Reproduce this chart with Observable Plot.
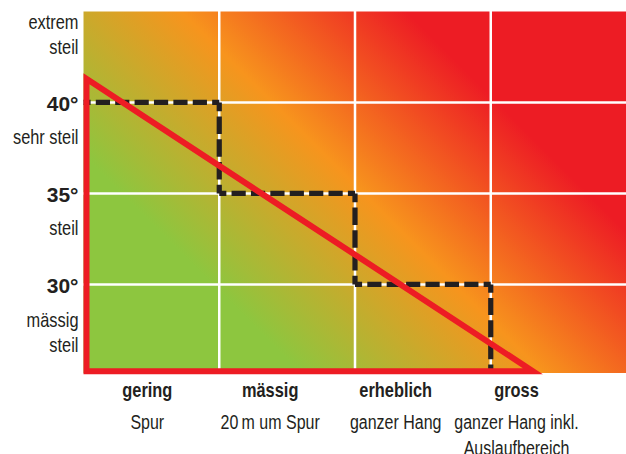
<!DOCTYPE html>
<html>
<head>
<meta charset="utf-8">
<script src="https://cdn.jsdelivr.net/npm/d3@7"></script>
<script src="https://cdn.jsdelivr.net/npm/@observablehq/plot@0.6"></script>
<style>
  html, body { margin: 0; padding: 0; background: #fff; }
  #chart svg { font-family: "Liberation Sans", Arial, sans-serif; display: block; }
</style>
</head>
<body>
<div id="chart"></div>
<script>
// ---------- data ----------
const dangerLevels = ["gering", "mässig", "erheblich", "gross"];
const dangerScope = ["Spur", "20\u2009m um Spur", "ganzer Hang", "ganzer Hang inkl.\nAuslaufbereich"];
const slopeTicks = [40, 35, 30];                       // degrees
const slopeClasses = ["extrem\nsteil", "sehr steil", "steil", "mässig\nsteil"];
const slopeClassDeg = [42.64, 37.73, 32.69, 26.27];     // baseline of last line, degrees
const maxSlopeByLevel = [40, 35, 30];                   // step line: max slope per danger level
const riskTriangle = [[0.022, 41.3], [0.022, 25.23], [3.31, 25.23]]; // red triangle (level, degree)
const yMin = 25.13, yMax = 45;

// ---------- layout ----------
const W = 626, H = 454, mL = 83, mR = 0, mT = 11, mB = 81.5;
const pxX = (W - mL - mR) / 4;
const pxY = (H - mT - mB) / (yMax - yMin);
const labelX = [0.47, 1.375, 2.3, 3.19];

// step line built from the data
const stepPts = [];
maxSlopeByLevel.forEach((deg, i) => {
  stepPts.push([i, deg], [i + 1, deg]);
});
stepPts.push([maxSlopeByLevel.length, yMin]);
const segs = [];
for (let i = 0; i < stepPts.length - 1; i++) segs.push([stepPts[i], stepPts[i + 1]]);

const gap = 5.2;
const dashMarks = segs.map(([a, b]) => {
  const len = Math.abs(b[0] - a[0]) * pxX + Math.abs(b[1] - a[1]) * pxY;
  const target = a[0] === b[0] ? 22.5 : 19.5;
  const n = Math.max(1, Math.round(len / target));
  const p = len / n;
  const d = p - gap;
  return Plot.line([a, b], {
    x: v => v[0], y: v => v[1],
    stroke: "#231f20", strokeWidth: 5.2,
    strokeDasharray: `${d},${gap}`,
    strokeDashoffset: d / 2,
    strokeLinecap: "butt"
  });
});

const chart = Plot.plot({
  width: W, height: H,
  marginLeft: mL, marginRight: mR, marginTop: mT, marginBottom: mB,
  x: {domain: [0, 4], axis: null},
  y: {domain: [yMin, yMax], axis: null},
  marks: [
    Plot.frame({fill: "url(#bg)", stroke: "none"}),
    Plot.ruleX([1, 2, 3], {stroke: "white", strokeWidth: 2.5}),
    Plot.ruleY(slopeTicks, {stroke: "white", strokeWidth: 2.5}),
    ...dashMarks,
    Plot.line(riskTriangle, {
      x: d => d[0], y: d => d[1], curve: "linear-closed",
      stroke: "#ed1c24", strokeWidth: 6, strokeLinejoin: "miter", strokeMiterlimit: 10
    }),
    Plot.text(slopeTicks, {
      x: 0, y: d => d, text: d => d + "°", textAnchor: "end", dx: -5, dy: 1.5,
      fontWeight: "bold", fontSize: 21, fill: "#231f20", className: "deg"
    }),
    Plot.text(slopeClasses, {
      x: 0, y: (d, i) => slopeClassDeg[i], text: d => d, textAnchor: "end", dx: -5,
      lineAnchor: "bottom", lineHeight: 1.28, fontSize: 20, fill: "#231f20", className: "narrow"
    }),
    Plot.text(dangerLevels, {
      x: (d, i) => labelX[i], frameAnchor: "bottom", text: d => d,
      lineAnchor: "bottom", dy: 24, fontWeight: "bold", fontSize: 20, fill: "#231f20", className: "narrow"
    }),
    Plot.text(dangerScope, {
      x: (d, i) => labelX[i], frameAnchor: "bottom", text: d => d,
      lineAnchor: "top", dy: 37.5, lineHeight: 1.33, fontSize: 19.5, fill: "#231f20", className: "narrow"
    })
  ]
});

// condensed look: squeeze text horizontally around its anchor
d3.select(chart).selectAll("g.narrow text").each(function () {
  const t = this.getAttribute("transform");
  if (t) {
    this.setAttribute("transform", t + " scale(0.82,1)");
  } else {
    const x = +(this.getAttribute("x") || 0), y = +(this.getAttribute("y") || 0);
    this.removeAttribute("x"); this.removeAttribute("y");
    this.setAttribute("transform", `translate(${x},${y}) scale(0.82,1)`);
  }
});

// background gradient (green -> orange -> red, diagonal)
const defs = d3.select(chart).insert("defs", ":first-child");
const grad = defs.append("linearGradient")
  .attr("id", "bg").attr("gradientUnits", "userSpaceOnUse")
  .attr("x1", 150).attr("y1", 222).attr("x2", 383.5).attr("y2", -11.5);
grad.append("stop").attr("offset", 0).attr("stop-color", "#8dc63f");
grad.append("stop").attr("offset", 0.518).attr("stop-color", "#f7941d");
grad.append("stop").attr("offset", 1).attr("stop-color", "#ed1c24");

document.getElementById("chart").appendChild(chart);
</script>
</body>
</html>
